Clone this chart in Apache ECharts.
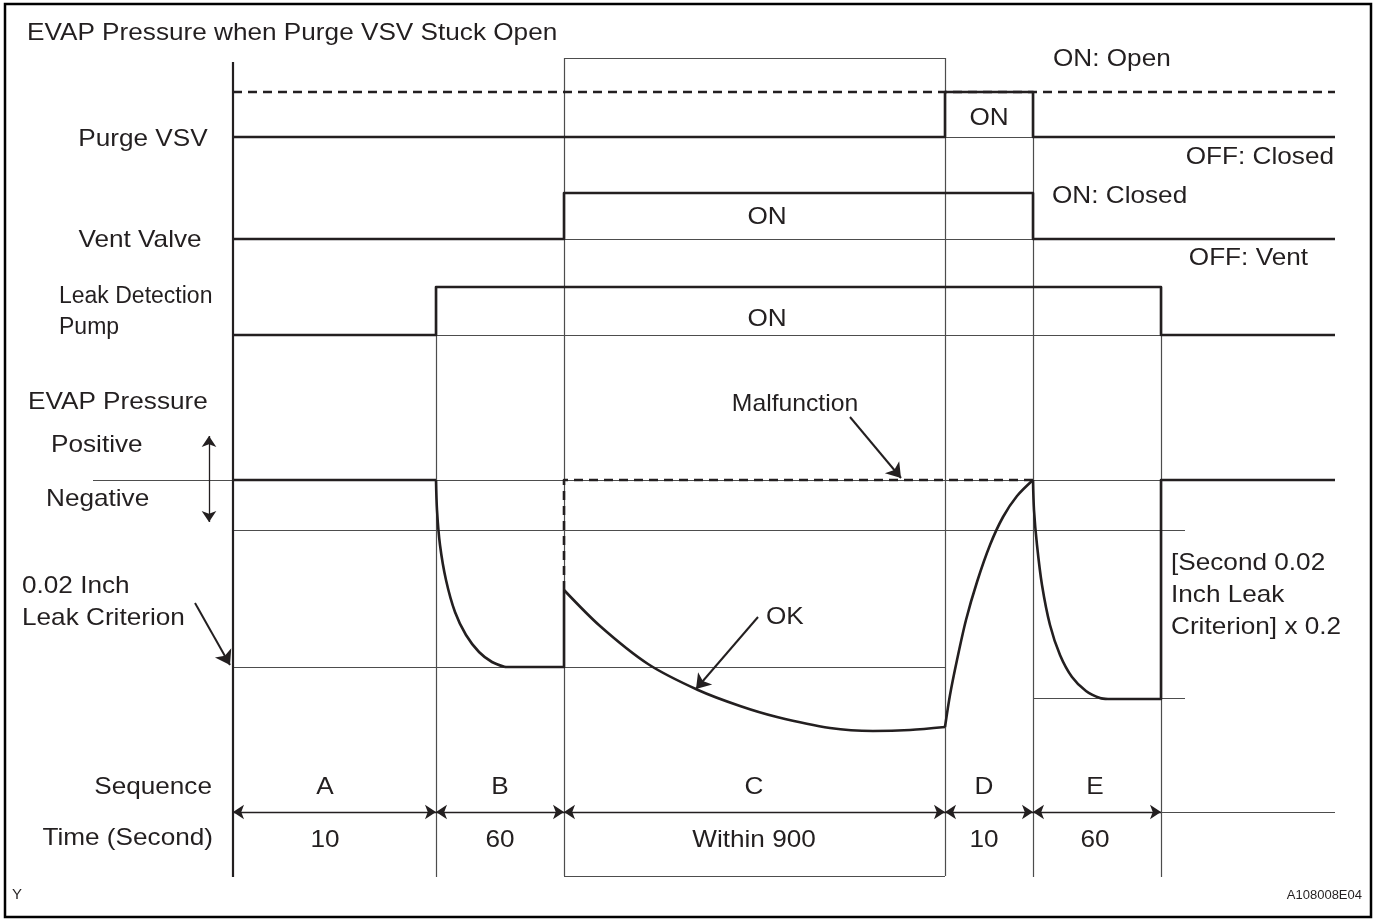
<!DOCTYPE html>
<html>
<head>
<meta charset="utf-8">
<title>EVAP Pressure when Purge VSV Stuck Open</title>
<script src="https://cdn.jsdelivr.net/npm/echarts@6/dist/echarts.min.js"></script>
<style>
    html, body { margin: 0; padding: 0; background: #fff; }
    #main { width: 1376px; height: 921px; }
</style>
</head>
<body>
<div id="main"></div>
<script>
// diagram units: x = horizontal position along the sequence, y = vertical position (down)
var phaseX = [233, 436, 564, 945, 1033, 1161];
var endX = 1335;
var seqNames = ['A', 'B', 'C', 'D', 'E'];
var seqTimes = ['10', '60', 'Within 900', '10', '60'];

// signal levels [low, high]
var purgeLevel = [137, 92];
var ventLevel = [239, 193];
var pumpLevel = [335, 287];
var evapZero = 480;
var evapLimit = 530;
var leakCrit = 667;
var leakCrit2 = 698;

// step signals
var purgeVsv = [[233, 137], [945, 137], [945, 92], [1033, 92], [1033, 137], [1335, 137]];
var purgeStuck = [[233, 92], [1335, 92]];
var ventValve = [[233, 239], [564, 239], [564, 193], [1033, 193], [1033, 239], [1335, 239]];
var leakPump = [[233, 335], [436, 335], [436, 287], [1161, 287], [1161, 335], [1335, 335]];

// EVAP pressure
var evapA = [[233, 480], [436, 480]];
var evapB = [[436, 480], [437, 510], [440, 545], [446, 580], [455, 612], [466, 635], [479, 652], [492, 662], [505, 667]];
var evapBHold = [[505, 667], [564, 667], [564, 590]];
var evapC = [[564, 590], [600, 626], [648, 664], [698, 690], [740, 706], [777, 717], [830, 728], [873, 731], [910, 730], [945, 727]];
var evapD = [[945, 727], [950, 695], [957, 660], [966, 620], [977, 582], [990, 545], [1003, 517], [1017, 496], [1033, 480]];
var evapE = [[1033, 480], [1034, 510], [1037, 545], [1042, 585], [1050, 625], [1060, 655], [1072, 677], [1086, 691], [1100, 698], [1108, 699]];
var evapEHold = [[1108, 699], [1161, 699], [1161, 480], [1335, 480]];
var evapMalf = [[564, 590], [564, 480], [1033, 480]];

var ink = '#231f20';
var thin = '#4d4d4d';
var font = '"Liberation Sans", Arial, Helvetica, sans-serif';

var myChart = echarts.init(document.getElementById('main'));

function thick(data, dashed, smooth) {
    return {
        type: 'line',
        data: data,
        symbol: 'none',
        smooth: smooth ? 0.3 : false,
        silent: true,
        animation: false,
        lineStyle: {color: ink, width: 2.6, type: dashed ? [9, 6] : 'solid', cap: 'butt', join: 'round'},
        z: 5
    };
}

var thinLines = [
    [[93, evapZero], [1161, evapZero]],
    [[233, evapLimit], [1185, evapLimit]],
    [[233, leakCrit], [945, leakCrit]],
    [[1033, leakCrit2], [1185, leakCrit2]],
    [[945, purgeLevel[0]], [1033, purgeLevel[0]]],
    [[564, ventLevel[0]], [1033, ventLevel[0]]],
    [[436, pumpLevel[0]], [1161, pumpLevel[0]]],
    [[436, 287], [436, 877]],
    [[1033, 92], [1033, 877]],
    [[1161, 287], [1161, 877]],
    [[564, 58], [564, 876]],
    [[945, 58], [945, 876]],
    [[564, 58], [945, 58]],
    [[564, 876], [945, 876]],
    [[1161, 812], [endX, 812]]
];

var seqArrows = [];
for (var i = 0; i < phaseX.length - 1; i++) {
    seqArrows.push({coords: [[phaseX[i], 812], [phaseX[i + 1], 812]]});
}
seqArrows.push({coords: [[209, 436], [209, 522]]});

var oneArrows = [
    {coords: [[195, 603], [230, 665]]},
    {coords: [[850, 417], [901, 478]]},
    {coords: [[758, 617], [696, 689]]}
];

// [text, x, y, align, horizontal scale, font size]
var texts = [
    ['EVAP Pressure when Purge VSV Stuck Open', 27, 33, 'left'],
    ['Purge VSV', 143, 139, 'center'],
    ['Vent Valve', 140, 240, 'center'],
    ['Leak Detection', 59, 297, 'left', 1, 23],
    ['Pump', 59, 328, 'left', 1, 23],
    ['EVAP Pressure', 28, 402, 'left'],
    ['Positive', 51, 445, 'left'],
    ['Negative', 46, 499, 'left'],
    ['0.02 Inch', 22, 586, 'left'],
    ['Leak Criterion', 22, 618, 'left'],
    ['Sequence', 212, 787, 'right'],
    ['Time (Second)', 213, 838, 'right'],
    ['ON: Open', 1053, 59, 'left'],
    ['OFF: Closed', 1334, 157, 'right'],
    ['ON: Closed', 1052, 196, 'left'],
    ['OFF: Vent', 1308, 258, 'right'],
    ['[Second 0.02', 1171, 563, 'left'],
    ['Inch Leak', 1171, 595, 'left'],
    ['Criterion] x 0.2', 1171, 627, 'left'],
    ['ON', 989, 118, 'center'],
    ['ON', 767, 217, 'center'],
    ['ON', 767, 319, 'center'],
    ['Malfunction', 795, 404, 'center', 1.03],
    ['OK', 766, 617, 'left']
];
var seqLabelX = [325, 500, 754, 984, 1095];
for (var j = 0; j < seqNames.length; j++) {
    texts.push([seqNames[j], seqLabelX[j], 787, 'center']);
    texts.push([seqTimes[j], seqLabelX[j], 840, 'center']);
}

var graphics = [{
    type: 'rect',
    shape: {x: 5, y: 4, width: 1366, height: 913},
    style: {fill: 'none', stroke: '#000', lineWidth: 2.5},
    silent: true
}];
texts.forEach(function (t) {
    graphics.push({
        type: 'text',
        x: t[1], y: t[2],
        scaleX: t[4] || 1.09,
        silent: true,
        style: {text: t[0], fill: ink, font: (t[5] || 24) + 'px ' + font, textAlign: t[3], textVerticalAlign: 'middle'}
    });
});
graphics.push({type: 'text', x: 12, y: 895, silent: true,
    style: {text: 'Y', fill: ink, font: '15px ' + font, textAlign: 'left', textVerticalAlign: 'middle'}});
graphics.push({type: 'text', x: 1362, y: 895, silent: true,
    style: {text: 'A108008E04', fill: ink, font: '13px ' + font, textAlign: 'right', textVerticalAlign: 'middle'}});

var option = {
    animation: false,
    backgroundColor: '#fff',
    grid: {left: 0, top: 0, width: 1376, height: 921},
    xAxis: {type: 'value', min: 0, max: 1376, show: false},
    yAxis: {type: 'value', min: 0, max: 921, inverse: true, show: false},
    graphic: graphics,
    series: [
        {
            type: 'lines',
            coordinateSystem: 'cartesian2d',
            silent: true,
            lineStyle: {color: thin, width: 1.2, opacity: 1},
            data: thinLines.map(function (c) { return {coords: c}; }),
            z: 2
        },
        {
            type: 'lines',
            coordinateSystem: 'cartesian2d',
            silent: true,
            lineStyle: {color: ink, width: 2.2, opacity: 1},
            data: [{coords: [[233, 62], [233, 877]]}],
            z: 3
        },
        {
            type: 'lines',
            coordinateSystem: 'cartesian2d',
            silent: true,
            symbol: ['arrow', 'arrow'],
            symbolSize: 11,
            lineStyle: {color: ink, width: 1.3, opacity: 1},
            data: seqArrows,
            z: 4
        },
        {
            type: 'lines',
            coordinateSystem: 'cartesian2d',
            silent: true,
            symbol: ['none', 'arrow'],
            symbolSize: 14,
            lineStyle: {color: ink, width: 2, opacity: 1},
            data: oneArrows,
            z: 4
        },
        thick(purgeStuck, true),
        thick(purgeVsv),
        thick(ventValve),
        thick(leakPump),
        thick(evapA),
        thick(evapB, false, true),
        thick(evapBHold),
        thick(evapC, false, true),
        thick(evapD, false, true),
        thick(evapE, false, true),
        thick(evapEHold),
        thick(evapMalf, true)
    ]
};

myChart.setOption(option);
</script>
</body>
</html>
